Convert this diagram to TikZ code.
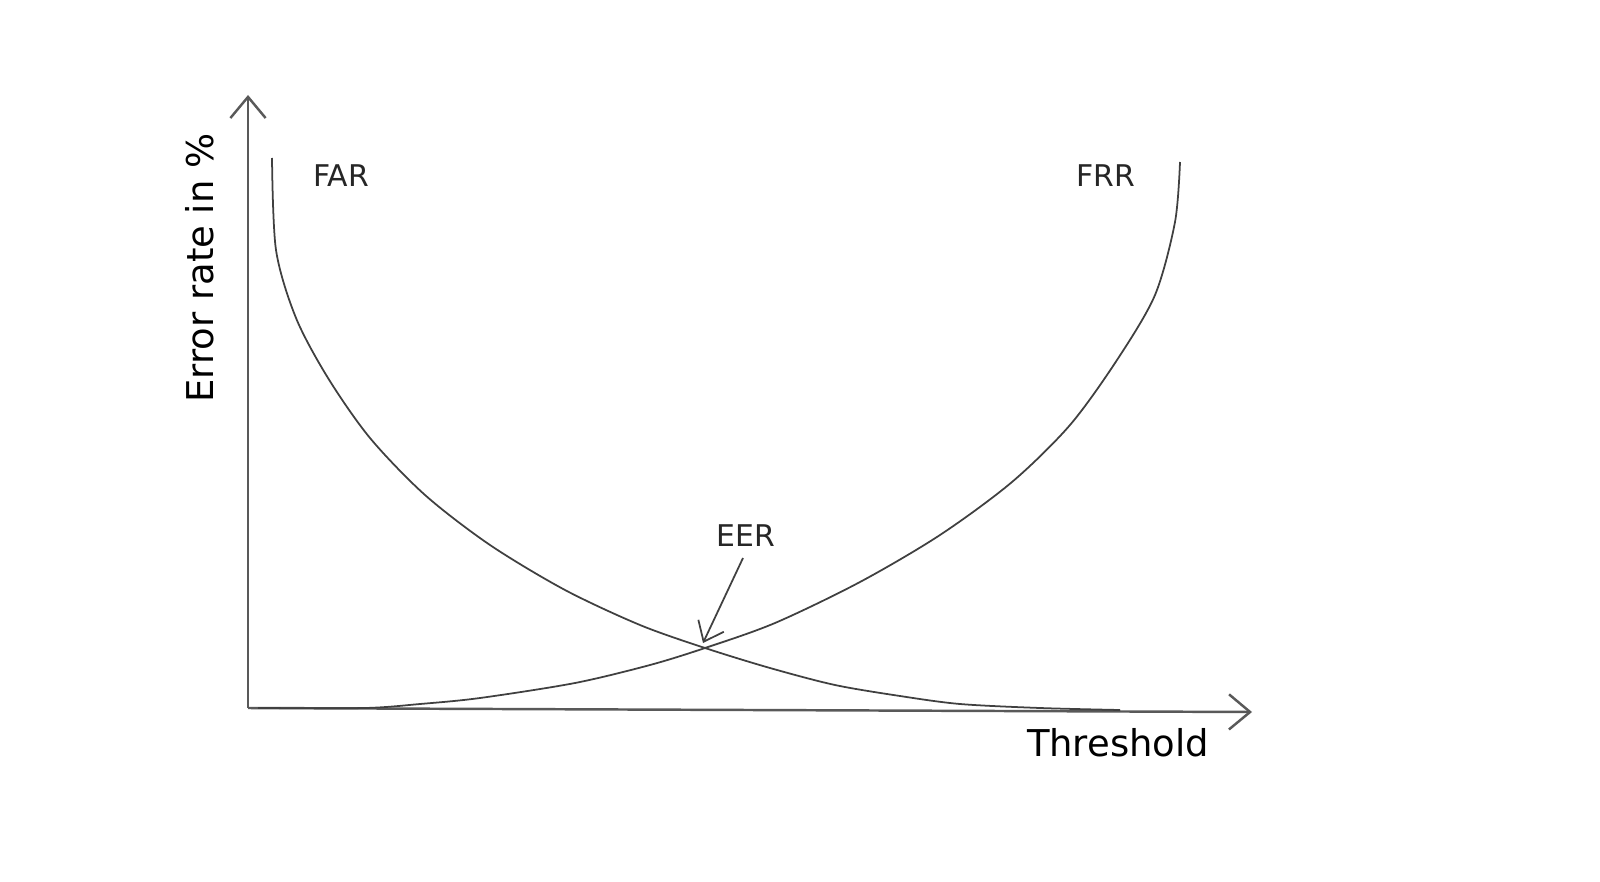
\documentclass[tikz,border=0pt]{standalone}
\usepackage{fontspec}
\setmainfont{DejaVu Sans}
\usetikzlibrary{arrows.meta}
\begin{document}
\begin{tikzpicture}[x=0.01cm,y=-0.01cm,
  ln/.style={draw=black!75,line width=0.5pt},
  ax/.style={draw=black!65,line width=0.7pt,-{Straight Barb[length=6pt,width=10pt]}},
  lab/.style={font=\fontsize{8.5}{10}\selectfont,text=black!85},
  big/.style={font=\fontsize{10.5}{12}\selectfont}]
\useasboundingbox (0,0) rectangle (1600,882);
\coordinate (o) at (248,708);
\coordinate (ytop) at (248,95);
\coordinate (xend) at (1252,712);
\draw[ax] (o) -- (ytop);
\draw[ax] (o) -- (xend);
\draw[ln] plot[smooth,tension=0.5] coordinates {(272,158) (276,250) (296,318) (328,378) (370,438) (425,495) (490,545) (565,590) (640,625) (705,648) (770,668) (835,685) (900,696) (960,704) (1040,708) (1120,710)};
\draw[ln] plot[smooth,tension=0.5] coordinates {(258,708) (365,708) (420,704) (480,698) (575,683) (650,665) (705,648) (775,623) (860,582) (940,535) (1012,482) (1070,425) (1117,360) (1155,295) (1175,222) (1180,162)};
\node[lab] (far) at (341,176) {FAR};
\node[lab] (frr) at (1106,176) {FRR};
\node[lab] (eer) at (746,536) {EER};
\coordinate (eerpt) at (703,643);
\coordinate (eerstart) at (743,558);
\draw[ln,-{Straight Barb[length=5pt,width=8pt]}] (eerstart) -- (eerpt);
\node[big] (th) at (1118,743) {Threshold};
\node[big,rotate=90] (yl) at (200,268) {Error rate in \%};
\end{tikzpicture}
\end{document}
